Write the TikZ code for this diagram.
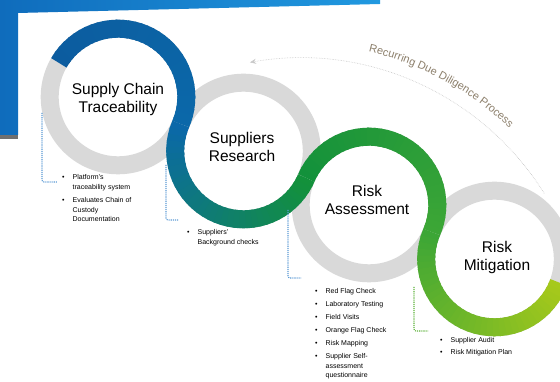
\documentclass[tikz,border=0pt]{standalone}
\usepackage{fontspec}
\setmainfont{Liberation Sans}
\usetikzlibrary{decorations.text,arrows.meta}

\definecolor{ringgray}{HTML}{D9D9D9}
\definecolor{blueA}{HTML}{0C5C9F}
\definecolor{blueB}{HTML}{0B68A9}
\definecolor{greenA}{HTML}{13913B}
\definecolor{greenB}{HTML}{3CA636}
\definecolor{limeB}{HTML}{A6C91B}
\definecolor{bgblueA}{HTML}{0F6CBC}
\definecolor{bgblueB}{HTML}{2199E0}
\definecolor{bgshadow}{HTML}{707070}
\definecolor{connblue}{HTML}{5B9BD5}
\definecolor{conngreen}{HTML}{5DB33A}
\definecolor{recurgray}{HTML}{C8C8C8}
\definecolor{recurtext}{HTML}{8C7F6B}

\def\ringR{68.3}

% one ring of the coloured band, drawn as short arcs blending colour #5 into #6
\newcommand{\bandpart}[6]{%
  \foreach \i in {0,...,35}{
    \pgfmathsetmacro{\angA}{#3+(#4-#3)*\i/36}
    \pgfmathsetmacro{\angB}{#3+(#4-#3)*min(\i+1.4,36)/36}
    \pgfmathtruncatemacro{\mixp}{100-100*\i/35}
    \draw[band, draw=#5!\mixp!#6] (#1,#2) ++(\angA:\ringR)
      arc[start angle=\angA, end angle=\angB, radius=\ringR];
  }}

\tikzset{
  ring/.style={draw=ringgray, line width=18pt},
  band/.style={line width=18pt, line cap=butt},
  ringlabel/.style={align=center, inner sep=0pt, font=\fontsize{15.5}{18}\selectfont},
  conn/.style={densely dotted, line width=1.1pt, draw=connblue, rounded corners=2pt},
  conngreen/.style={conn, draw=conngreen},
  itemlist/.style={anchor=north west, inner sep=0pt, font=\fontsize{7}{9.5}\selectfont},
  recur/.style={draw=recurgray, densely dotted, line width=0.6pt}
}

\newcommand{\blt}{\textbullet}

\begin{document}
\begin{tikzpicture}[x=1pt,y=1pt]
\useasboundingbox (0,0) rectangle (560,382);
\fill[white] (0,0) rectangle (560,382);

% blue frame in the upper left corner
\shade[left color=bgblueA, right color=bgblueB]
  (0,382) -- (380,382) -- (380,378) -- (18,369) -- (18,247) -- (0,247) -- cycle;
\fill[bgshadow] (0,247) rectangle (18,243);

% grey rings
\foreach \cx/\cy in {118/285, 243.5/231, 369/177, 494.5/123}
  \draw[ring] (\cx,\cy) circle[radius=\ringR];

% coloured band running through the four rings
\bandpart{118}{285}{150}{-23.3}{blueA}{blueB}
\bandpart{243.5}{231}{156.7}{336.7}{blueB}{greenA}
\bandpart{369}{177}{156.7}{-23.3}{greenA}{greenB}
\bandpart{494.5}{123}{156.7}{340}{greenB}{limeB}

% ring titles
\node[ringlabel] (t1) at (118,283) {Supply Chain\\Traceability};
\node[ringlabel] (t2) at (242,235) {Suppliers\\Research};
\node[ringlabel] (t3) at (367,182) {Risk\\Assessment};
\node[ringlabel] (t4) at (497,125) {Risk\\Mitigation};

% activity lists
\node[itemlist] (l1) at (62,209) {%
  \begin{tabular}{@{}l@{\hspace{8pt}}l@{}}
  \blt & Platform's\\
       & traceability system\\[4pt]
  \blt & Evaluates Chain of\\
       & Custody\\
       & Documentation
  \end{tabular}};
\node[itemlist] (l2) at (187,154) {%
  \begin{tabular}{@{}l@{\hspace{8pt}}l@{}}
  \blt & Suppliers'\\
       & Background checks
  \end{tabular}};
\node[itemlist] (l3) at (315,95) {%
  \begin{tabular}{@{}l@{\hspace{8pt}}l@{}}
  \blt & Red Flag Check\\[3.5pt]
  \blt & Laboratory Testing\\[3.5pt]
  \blt & Field Visits\\[3.5pt]
  \blt & Orange Flag Check\\[3.5pt]
  \blt & Risk Mapping\\[3.5pt]
  \blt & Supplier Self-\\
       & assessment\\
       & questionnaire
  \end{tabular}};
\node[itemlist] (l4) at (440,46) {%
  \begin{tabular}{@{}l@{\hspace{8pt}}l@{}}
  \blt & Supplier Audit\\[2pt]
  \blt & Risk Mitigation Plan
  \end{tabular}};

% dotted leaders from the rings to their lists
\coordinate (k1a) at (42,269);  \coordinate (k1b) at (57,200);
\coordinate (k2a) at (166,217); \coordinate (k2b) at (179,162);
\coordinate (k3a) at (288,172); \coordinate (k3b) at (301,104);
\coordinate (k4a) at (414,95);  \coordinate (k4b) at (428,51);
\draw[conn] (k1a) |- (k1b);
\draw[conn] (k2a) |- (k2b);
\draw[conn] (k3a) |- (k3b);
\draw[conngreen] (k4a) |- (k4b);

% recurring process arrow
\path (300,36) ++(32:288) coordinate (r0);
\draw[recur, -{Stealth[length=6pt,width=5pt]}] (r0) arc[start angle=32, end angle=100, radius=288];
\path[decorate, decoration={text along path, text align=center,
    text={|\fontsize{11}{13}\selectfont\color{recurtext}|Recurring Due Diligence Process}}]
  (300,36) ++(80:302) arc[start angle=80, end angle=43, radius=302];
\end{tikzpicture}
\end{document}
